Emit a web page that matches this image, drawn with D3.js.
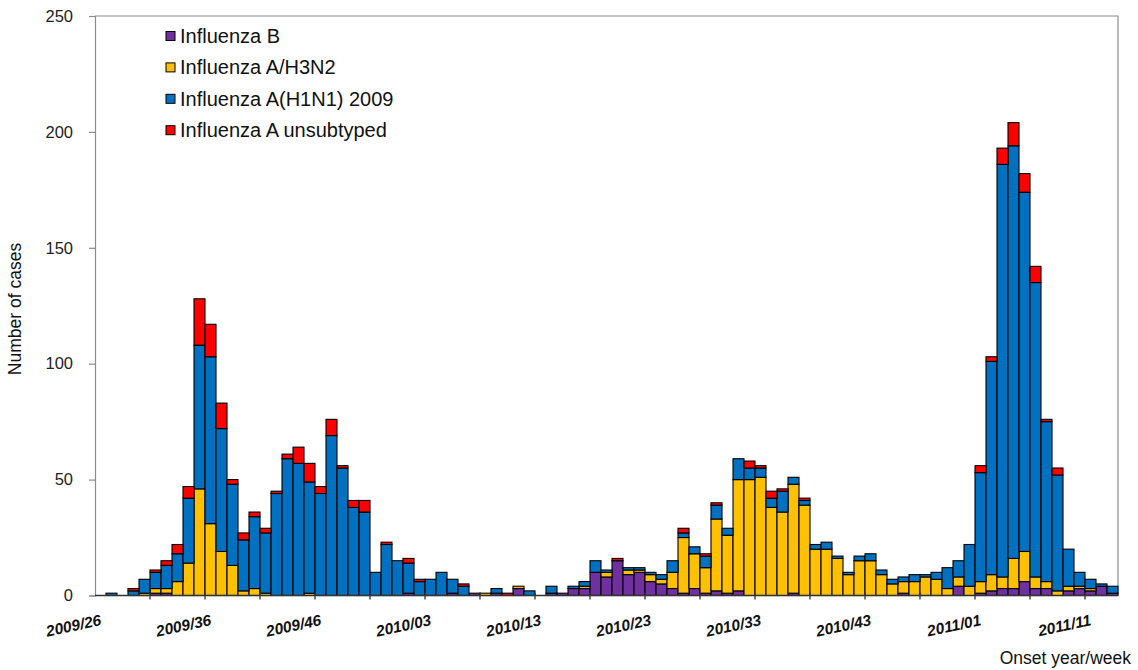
<!DOCTYPE html>
<html>
<head>
<meta charset="utf-8">
<script src="https://cdn.jsdelivr.net/npm/d3@7"></script>
<style>
  html, body { margin: 0; padding: 0; background: #fff; }
  svg { display: block; font-family: "Liberation Sans", Arial, sans-serif; }
</style>
</head>
<body>
<svg id="chart" width="1138" height="670"></svg>
<script>
// Onset weeks, 2009/26 to 2011/13 (2009 has 53 ISO weeks)
const weeks = [];
for (let w = 26; w <= 53; w++) weeks.push("2009/" + String(w).padStart(2, "0"));
for (let w = 1; w <= 52; w++) weeks.push("2010/" + String(w).padStart(2, "0"));
for (let w = 1; w <= 13; w++) weeks.push("2011/" + String(w).padStart(2, "0"));

// Weekly case counts per virus type
const influenzaB = [
  0,0,0,0,0,1,1,0,0,0, 0,0,0,0,0,0,0,0,0,0,
  0,0,0,0,0,0,0,0,1,0, 0,0,1,0,1,0,1,0,3,0,
  0,1,1,3,3,10,8,15,9,10, 6,5,3,1,3,1,2,1,2,0,
  0,0,0,1,0,0,0,0,0,0, 0,0,0,1,0,0,0,0,4,0,
  1,2,3,3,6,3,3,0,2,3, 2,4,1
];
const influenzaH3N2 = [
  0,0,0,0,1,2,2,6,14,46, 31,19,13,2,3,1,0,0,0,1,
  0,0,0,0,0,0,0,0,0,0, 0,0,0,0,0,1,0,0,1,0,
  0,0,0,0,1,0,2,0,2,1, 3,2,7,24,15,11,31,25,48,50,
  51,38,36,47,39,20,20,16,9,15, 15,9,5,5,6,8,7,3,4,4,
  5,7,5,13,13,5,3,2,2,1, 1,0,0
];
const influenzaH1N1 = [
  0,1,0,2,6,7,10,12,28,62, 72,53,35,22,31,26,44,59,57,48,
  44,69,55,38,36,10,22,15,13,6, 7,10,6,4,0,0,2,0,0,2,
  0,3,0,1,2,5,1,0,1,1, 1,2,5,2,3,5,6,3,9,5,
  4,4,9,3,2,2,3,1,1,2, 3,2,2,2,3,1,3,9,7,18,
  47,92,178,178,155,127,69,50,16,6, 4,1,3
];
const influenzaUnsubtyped = [
  0,0,0,1,0,1,2,4,5,20, 14,11,2,3,2,2,1,2,7,8,
  3,7,1,3,5,0,1,0,2,1, 0,0,0,1,0,0,0,1,0,0,
  0,0,0,0,0,0,0,1,0,0, 0,0,0,2,0,1,1,0,0,3,
  1,3,1,0,1,0,0,0,0,0, 0,0,0,0,0,0,0,0,0,0,
  3,2,7,10,8,7,1,3,0,0, 0,0,0
];

const seriesNames = ["Influenza B", "Influenza A/H3N2", "Influenza A(H1N1) 2009", "Influenza A unsubtyped"];
const seriesColors = ["#7030A0", "#FFC000", "#0070C0", "#FF0000"];
const yTicks = [0, 50, 100, 150, 200, 250];

const rows = weeks.map((wk, i) => ({
  week: wk,
  b: influenzaB[i],
  h3: influenzaH3N2[i],
  h1: influenzaH1N1[i],
  un: influenzaUnsubtyped[i]
}));
const keys = ["b", "h3", "h1", "un"];

const svg = d3.select("#chart");
const plot = { left: 95, right: 1118, top: 16, bottom: 595.5 };

const x = d3.scaleBand().domain(weeks).range([plot.left, plot.right]).padding(0);
const y = d3.scaleLinear().domain([0, 250]).range([plot.bottom, plot.top]);

const stacked = d3.stack().keys(keys)(rows);

// Plot area frame (top and right edges)
svg.append("path")
  .attr("d", `M${plot.left},${plot.top}H${plot.right}V${plot.bottom}`)
  .attr("fill", "none").attr("stroke", "#8c8c8c").attr("stroke-width", 1.2);

// Stacked bars
const layers = svg.append("g").selectAll("g")
  .data(stacked).join("g")
  .attr("fill", (d, i) => seriesColors[i]);

layers.selectAll("rect")
  .data(d => d.filter(s => s[1] - s[0] > 0))
  .join("rect")
  .attr("x", d => x(d.data.week))
  .attr("width", x.bandwidth())
  .attr("y", d => y(d[1]))
  .attr("height", d => y(d[0]) - y(d[1]))
  .attr("stroke", "#000")
  .attr("stroke-width", 1.1);

// Y axis
const yAxis = d3.axisLeft(y).tickValues(yTicks).tickSize(6).tickPadding(16);
const gy = svg.append("g").attr("transform", `translate(${plot.left},0)`).call(yAxis);
gy.select(".domain").attr("stroke", "#8c8c8c").attr("stroke-width", 1.2);
gy.selectAll(".tick line").attr("stroke", "#8c8c8c").attr("stroke-width", 1.2);
gy.selectAll(".tick text").attr("font-size", 16.5).attr("fill", "#222")
  .attr("font-family", "Liberation Sans, Arial, sans-serif");

// X axis line with tick marks every 5 weeks
const gx = svg.append("g");
gx.append("line")
  .attr("x1", plot.left).attr("x2", plot.right)
  .attr("y1", plot.bottom).attr("y2", plot.bottom)
  .attr("stroke", "#333").attr("stroke-width", 1.3);
gx.selectAll("line.tick")
  .data(weeks.filter((w, i) => i % 5 === 0 && i > 0))
  .join("line").attr("class", "tick")
  .attr("x1", d => x(d)).attr("x2", d => x(d))
  .attr("y1", plot.bottom - 3).attr("y2", plot.bottom + 4)
  .attr("stroke", "#333").attr("stroke-width", 1.3);

// Week labels every 10 weeks, slanted
gx.selectAll("text")
  .data(weeks.filter((w, i) => i % 10 === 0))
  .join("text")
  .attr("transform", d => `translate(${x(d) + x.bandwidth() / 2 + 1.5},625) rotate(-12)`)
  .attr("text-anchor", "end")
  .attr("font-size", 15.5)
  .attr("font-weight", "bold")
  .attr("font-style", "italic")
  .attr("fill", "#111")
  .text(d => d);

// Axis titles
svg.append("text")
  .attr("transform", "translate(21,309) rotate(-90)")
  .attr("text-anchor", "middle")
  .attr("font-size", 17.5)
  .attr("fill", "#111")
  .text("Number of cases");

svg.append("text")
  .attr("x", 1131).attr("y", 664)
  .attr("text-anchor", "end")
  .attr("font-size", 17.5)
  .attr("fill", "#111")
  .text("Onset year/week");

// Legend
const legend = svg.append("g").attr("transform", "translate(166,36)");
const items = legend.selectAll("g").data(seriesNames).join("g")
  .attr("transform", (d, i) => `translate(0,${i * 31.4})`);
items.append("rect")
  .attr("x", 0).attr("y", -4.5).attr("width", 9).attr("height", 9)
  .attr("fill", (d, i) => seriesColors[i])
  .attr("stroke", "#000").attr("stroke-width", 1);
items.append("text")
  .attr("x", 14).attr("y", 7)
  .attr("font-size", 20)
  .attr("fill", "#111")
  .text(d => d);
</script>
</body>
</html>
